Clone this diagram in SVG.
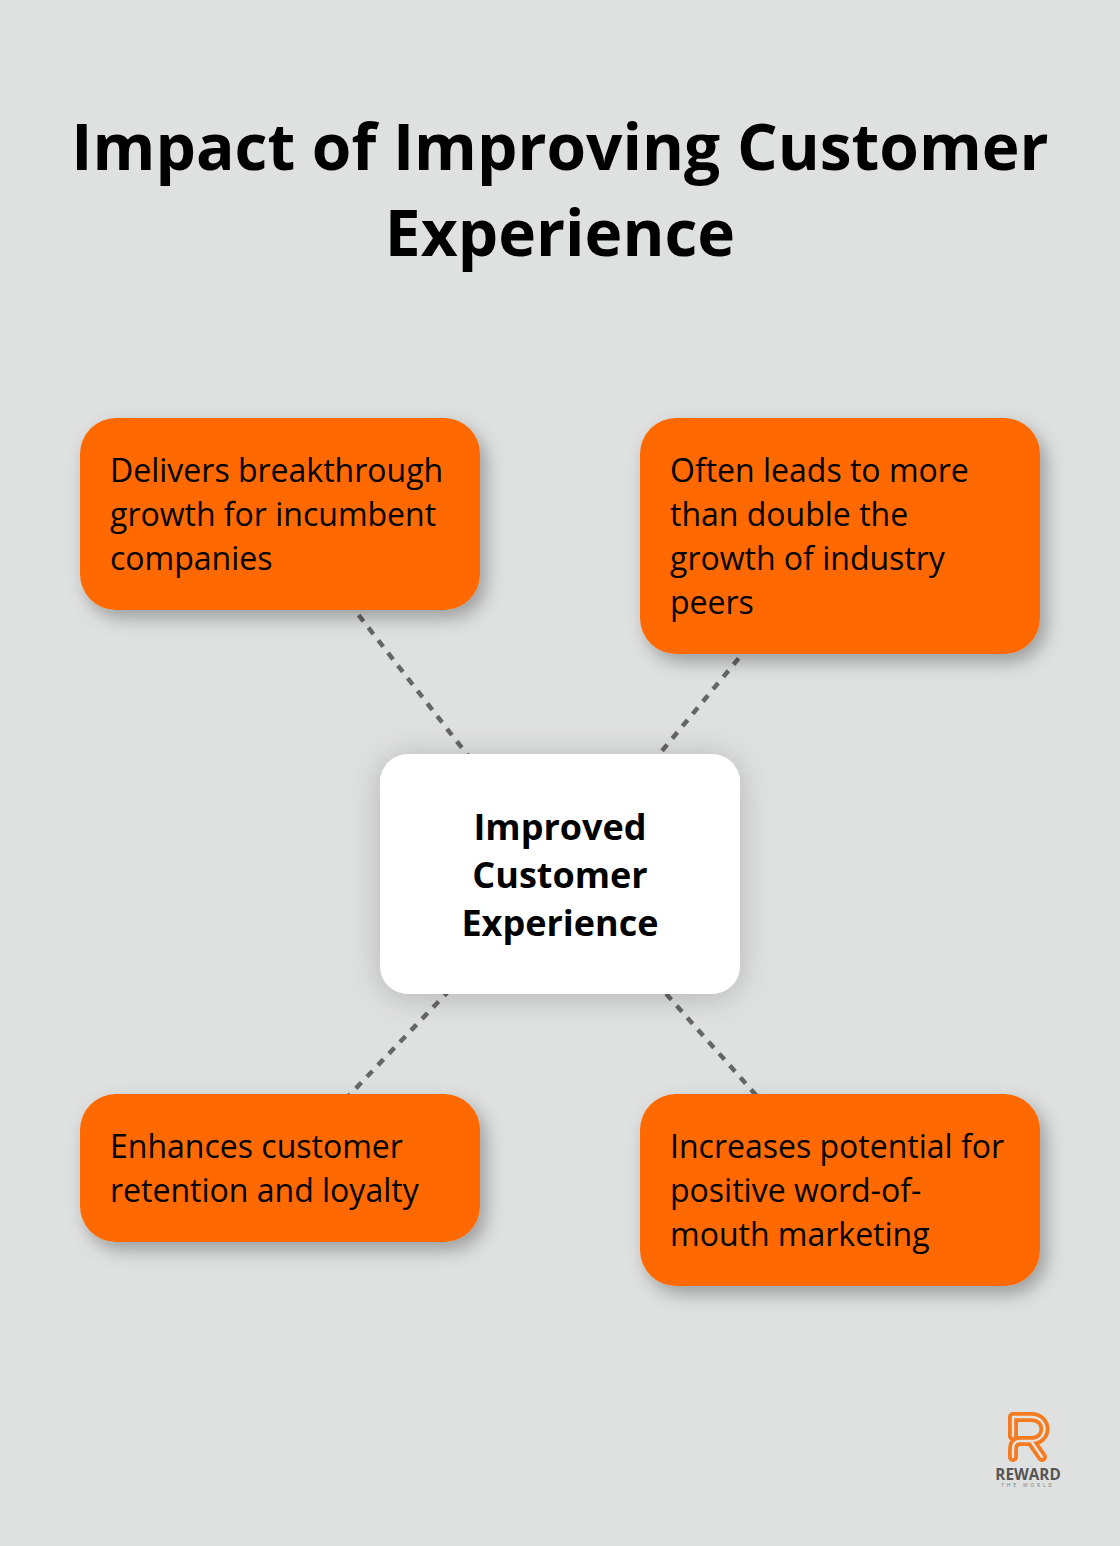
<svg xmlns="http://www.w3.org/2000/svg" width="1120" height="1546" viewBox="0 0 1120 1546">
<defs>
<style>
text{font-family:"Open Sans",sans-serif;fill:#000}
.title{font-size:64px;font-weight:700;text-anchor:middle}
.body{font-size:32px}
.center{font-size:36px;font-weight:700;text-anchor:middle}
.card{fill:#ff6900;filter:url(#sh)}
.link{stroke:#666;stroke-width:4.5;stroke-dasharray:8 8;fill:none}
.lg{fill:none;stroke:#f47b20;stroke-width:10;stroke-linejoin:round;stroke-linecap:round}
.li{fill:none;stroke:#e6e3de;stroke-width:2.4;stroke-linejoin:round;stroke-linecap:round}
</style>
<filter id="sh" x="-20%" y="-20%" width="140%" height="150%"><feDropShadow dx="6" dy="8" stdDeviation="9" flood-color="#000" flood-opacity="0.3"/></filter>
<filter id="shc" x="-30%" y="-30%" width="160%" height="160%"><feDropShadow dx="0" dy="3" stdDeviation="16" flood-color="#000" flood-opacity="0.2"/></filter>
</defs>
<rect width="1120" height="1546" fill="#dfe1e0"/>
<g id="title"><text class="title" x="560" y="170">Impact of Improving Customer</text><text class="title" x="560" y="256">Experience</text></g>
<g id="connectors">
<line class="link" x1="560" y1="874" x2="280" y2="514"/>
<line class="link" x1="560" y1="874" x2="840" y2="536"/>
<line class="link" x1="560" y1="874" x2="280" y2="1168"/>
<line class="link" x1="560" y1="874" x2="840" y2="1190"/>
</g>
<g id="node-tl"><rect class="card" x="80" y="418" width="400" height="192" rx="36"/><text class="body" x="110" y="482">Delivers breakthrough</text><text class="body" x="110" y="526">growth for incumbent</text><text class="body" x="110" y="570">companies</text></g>
<g id="node-tr"><rect class="card" x="640" y="418" width="400" height="236" rx="36"/><text class="body" x="670" y="482">Often leads to more</text><text class="body" x="670" y="526">than double the</text><text class="body" x="670" y="570">growth of industry</text><text class="body" x="670" y="614">peers</text></g>
<g id="node-center"><rect x="380" y="754" width="360" height="240" rx="28" fill="#fff" filter="url(#shc)"/><text class="center" x="560" y="840">Improved</text><text class="center" x="560" y="888">Customer</text><text class="center" x="560" y="936">Experience</text></g>
<g id="node-bl"><rect class="card" x="80" y="1094" width="400" height="148" rx="36"/><text class="body" x="110" y="1158">Enhances customer</text><text class="body" x="110" y="1202">retention and loyalty</text></g>
<g id="node-br"><rect class="card" x="640" y="1094" width="400" height="192" rx="36"/><text class="body" x="670" y="1158">Increases potential for</text><text class="body" x="670" y="1202">positive word-of-</text><text class="body" x="670" y="1246">mouth marketing</text></g>
<g id="logo">
<path class="lg" d="M1013 1436V1417H1031C1049 1417 1049 1441 1031 1441H1020C1012 1441 1013 1448 1013 1457"/>
<path class="lg" d="M1031 1441L1042 1457"/>
<path class="li" d="M1013 1436V1417H1031C1049 1417 1049 1441 1031 1441H1020C1012 1441 1013 1448 1013 1457"/>
<path class="li" d="M1031 1441L1042 1457"/>
<text x="1028" y="1480" font-size="15.3" font-weight="700" text-anchor="middle" style="fill:#555">REWARD</text>
<text x="1028" y="1487" font-size="5" text-anchor="middle" letter-spacing="2.8" style="fill:#777">THE WORLD</text>
</g>
</svg>
